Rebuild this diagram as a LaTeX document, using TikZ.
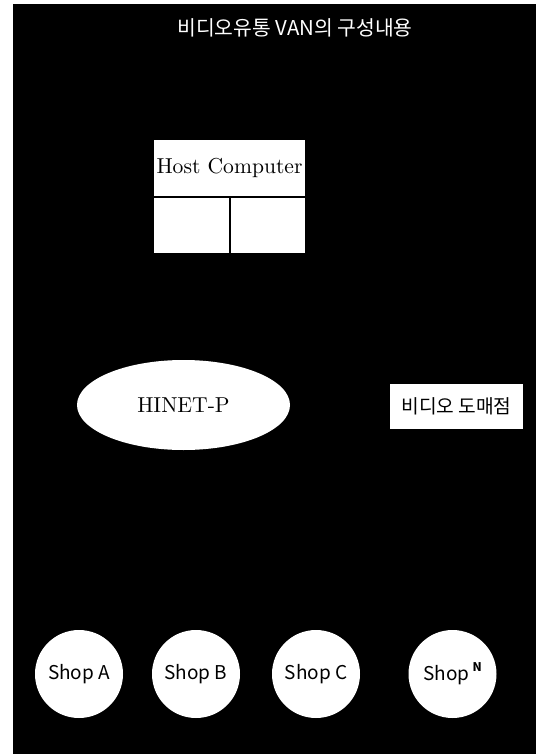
\documentclass[tikz,border=0pt]{standalone}
\usepackage{fontspec}
\newfontfamily\kr{Noto Sans CJK KR}
\usetikzlibrary{shapes.geometric}
\tikzset{
  hostbox/.style = {draw=black,fill=white,line width=0.6pt,inner sep=0pt},
  netnode/.style = {ellipse,fill=white,inner sep=0pt,minimum width=106.5pt,minimum height=45pt},
  shopnode/.style = {circle,fill=white,inner sep=0pt,minimum size=44pt,font=\kr\fontsize{9.5}{11}\selectfont}
}
\begin{document}
\begin{tikzpicture}[x=0.5pt,y=-0.5pt]
  % page and black field
  \useasboundingbox (0,0) rectangle (542,754);
  \fill[white] (0,0) rectangle (542,754);
  \fill[black] (13,4) rectangle (536,754);
  % title
  \node[white,font=\kr\fontsize{10.2}{12}\selectfont] (title) at (295,28) {비디오유통 VAN의 구성내용};
  % host computer
  \node[hostbox,minimum width=76.5pt,minimum height=29pt,font=\fontsize{10.8}{12}\selectfont] (host) at (229.5,168) {Host Computer};
  \node[hostbox,minimum width=38.5pt,minimum height=28.5pt] (hostl) at (191.5,225.5) {};
  \node[hostbox,minimum width=38pt,minimum height=28.5pt] (hostr) at (268,225.5) {};
  % network
  \node[netnode,font=\fontsize{10.8}{12}\selectfont] (hinet) at (183.5,405) {HINET-P};
  % wholesaler
  \node[hostbox,minimum width=67.5pt,minimum height=23.5pt,font=\kr\fontsize{9.6}{11}\selectfont] (whole) at (456.5,406.5) {비디오 도매점};
  % shops
  \node[shopnode] (shopa) at (79,674) {Shop A};
  \node[shopnode] (shopb) at (196,674) {Shop B};
  \node[shopnode] (shopc) at (316,674) {Shop C};
  \node[shopnode] (shopn) at (452.5,674) {Shop\,\raisebox{0.9ex}{\fontsize{6}{7}\selectfont\bfseries N}};
\end{tikzpicture}
\end{document}
